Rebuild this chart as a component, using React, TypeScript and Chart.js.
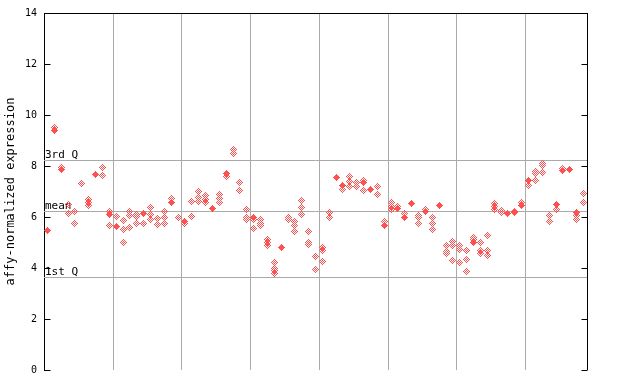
import React, { useEffect, useRef } from 'react';
import { Chart, registerables } from 'chart.js';

Chart.register(...registerables);

// ---- data ----
const columnCount = 79;
const groupSize = 10;

// one solid (highlighted) value per sample column, null when absent
const solidValues: (number | null)[] = [
  5.49, 9.4, 7.85, null, null, null, null, 7.65, null, 6.1,
  5.64, null, null, null, 6.15, null, null, null, 6.55, null,
  5.84, null, null, null, 6.35, null, 7.72, null, null, null,
  6.0, null, null, null, 4.8, null, null, null, null, null,
  null, null, 7.56, 7.23, null, null, 7.36, 7.07, null, 5.68,
  null, 6.34, 5.97, 6.53, null, 6.2, null, 6.44, null, null,
  null, null, 5.01, null, null, null, null, 6.13, null, 6.44,
  7.44, null, null, null, 6.48, 7.82, 7.85, 6.17, null,
];

// replicate values per sample column
const replicateValues: number[][] = [
  [], [9.5], [7.95], [6.5, 6.15], [6.2, 5.75],
  [7.32], [6.7, 6.55, 6.45], [], [7.94, 7.62], [6.2, 5.67],
  [6.01], [5.87, 5.5, 5.0], [6.2, 6.07, 5.58], [6.1, 6.01, 5.75], [5.75],
  [6.38, 6.1, 5.89], [5.94, 5.71], [6.22, 5.98, 5.75], [6.73], [5.98],
  [5.73], [6.61, 6.02], [7.01, 6.78, 6.61], [6.85, 6.69, 6.55], [],
  [6.9, 6.73, 6.55], [7.58], [8.66, 8.5], [7.36, 7.02], [6.31, 5.97, 5.89],
  [5.92, 5.55], [5.9, 5.75, 5.66], [5.13, 4.99, 4.88], [4.2, 4.0, 3.89, 3.79], [],
  [5.97, 5.9], [5.84, 5.68, 5.43], [6.65, 6.38, 6.1], [5.43, 4.99, 4.92], [4.44, 3.94],
  [4.79, 4.7, 4.27], [6.19, 5.98], [], [7.06], [7.57, 7.38, 7.2],
  [7.36, 7.2], [7.45, 7.05], [], [7.2, 6.89], [5.81],
  [6.55, 6.43, 6.3], [6.43], [6.13], [], [6.07, 5.98, 5.75],
  [6.31], [5.98, 5.75, 5.51], [], [4.9, 4.66, 4.58], [5.05, 4.9, 4.29],
  [4.9, 4.74, 4.23], [4.69, 4.35, 3.87], [5.2, 5.1], [5.0, 4.67, 4.55], [5.28, 4.69, 4.49],
  [6.53, 6.43, 6.3], [6.27, 6.18], [], [6.23, 6.18], [6.57],
  [7.24], [7.78, 7.7, 7.44], [8.11, 8.02, 7.75], [6.07, 5.81], [6.3],
  [7.91], [], [6.04, 5.9], [6.93, 6.57],
];

const yTicks = [0, 2, 4, 6, 8, 10, 12, 14];
const quantileLabels = ['3rd Q', 'mean', '1st Q'];
const quantileValues = [8.24, 6.22, 3.63];
const yTitle = 'affy-normalized expression';

// ---- styles ----
const MONO = '"DejaVu Sans Mono", monospace';
const RED = '#ff5050';
const GRID = '#aaaaaa';

function makeMarker(solid: boolean): HTMLCanvasElement {
  const c = document.createElement('canvas');
  c.width = 7;
  c.height = 7;
  const g = c.getContext('2d')!;
  g.fillStyle = RED;
  for (let dy = -3; dy <= 3; dy++) {
    for (let dx = -3; dx <= 3; dx++) {
      const d = Math.abs(dx) + Math.abs(dy);
      if (d > 3) continue;
      if (solid || Math.abs(dx + dy) % 2 === 1) g.fillRect(dx + 3, dy + 3, 1, 1);
    }
  }
  return c;
}

const framePlugin = {
  id: 'frame',
  beforeDatasetsDraw(chart: any) {
    const { ctx, chartArea: a, scales } = chart;
    const x = scales.x;
    const y = scales.y;
    ctx.save();
    ctx.lineWidth = 1;
    ctx.strokeStyle = GRID;
    const line = (x1: number, y1: number, x2: number, y2: number) => {
      ctx.beginPath();
      ctx.moveTo(x1, y1);
      ctx.lineTo(x2, y2);
      ctx.stroke();
    };
    for (let k = groupSize; k < columnCount; k += groupSize) {
      const px = Math.round(x.getPixelForValue(k)) + 0.5;
      line(px, a.top, px, a.bottom);
    }
    quantileValues.forEach((q) => {
      const py = Math.round(y.getPixelForValue(q)) + 0.5;
      line(a.left, py, a.right, py);
    });
    // frame: top and right
    ctx.strokeStyle = '#000';
    const top = Math.round(a.top) + 0.5;
    const right = Math.round(a.right) + 0.5;
    const left = Math.round(a.left) + 0.5;
    line(a.left, top, a.right + 1, top);
    line(right, a.top, right, a.bottom);
    // inner ticks on both sides
    yTicks.forEach((v) => {
      const py = Math.round(y.getPixelForValue(v)) + 0.5;
      line(left, py, left + 6, py);
      line(right - 6, py, right, py);
    });
    // quantile labels
    ctx.fillStyle = '#000';
    ctx.font = '11px ' + MONO;
    ctx.textAlign = 'left';
    ctx.textBaseline = 'bottom';
    quantileLabels.forEach((t, i) => {
      const py = Math.round(y.getPixelForValue(quantileValues[i])) + 1;
      ctx.fillText(t, a.left + 1, py);
    });
    ctx.restore();
    ctx.imageSmoothingEnabled = false;
  },
};

export default function App() {
  const ref = useRef<HTMLCanvasElement | null>(null);

  useEffect(() => {
    if (!ref.current) return;
    const solidData = solidValues.flatMap((v, i) => (v == null ? [] : [{ x: i + 0.5, y: v }]));
    const replicateData = replicateValues.flatMap((arr, i) => arr.map((v) => ({ x: i + 0.5, y: v })));
    const solidMarker = makeMarker(true);
    const openMarker = makeMarker(false);

    const chart = new Chart(ref.current, {
      type: 'scatter',
      data: {
        datasets: [
          { data: solidData, pointStyle: solidMarker as any, pointRadius: 4, borderWidth: 0 },
          { data: replicateData, pointStyle: openMarker as any, pointRadius: 4, borderWidth: 0 },
        ],
      },
      options: {
        animation: false,
        responsive: false,
        devicePixelRatio: 1,
        events: [],
        layout: { padding: { left: 0, right: 53, top: 13, bottom: 14 } },
        plugins: { legend: { display: false }, tooltip: { enabled: false } },
        scales: {
          x: { type: 'linear', min: 0, max: columnCount, display: false },
          y: {
            type: 'linear',
            position: 'left',
            min: 0,
            max: 14,
            afterFit: (s: any) => {
              s.width = 44;
            },
            afterBuildTicks: (s: any) => {
              s.ticks = yTicks.map((v) => ({ value: v }));
            },
            ticks: { color: '#000', font: { family: MONO, size: 10 }, padding: 7 },
            grid: { display: false, drawTicks: false },
            border: { display: true, color: '#000', width: 1 },
            title: { display: true, text: yTitle, color: '#000', font: { family: MONO, size: 12 } },
          },
        },
      },
      plugins: [framePlugin],
    });
    return () => chart.destroy();
  }, []);

  return (
    <div style={{ position: 'absolute', left: 0, top: 0, width: 640, height: 384, background: '#fff' }}>
      <canvas ref={ref} width={640} height={384} style={{ display: 'block' }} />
    </div>
  );
}
